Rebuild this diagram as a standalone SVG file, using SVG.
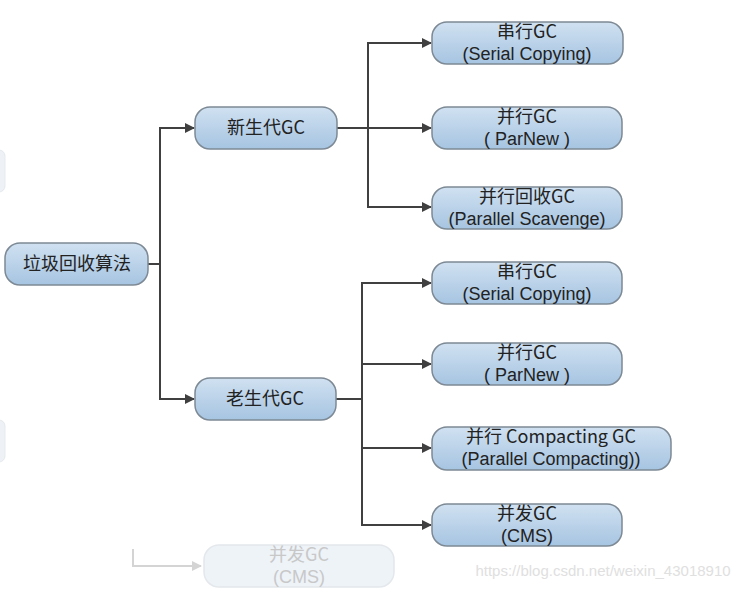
<svg xmlns="http://www.w3.org/2000/svg" width="748" height="589" viewBox="0 0 748 589">
<defs>
<linearGradient id="g" x1="0" y1="0" x2="0" y2="1">
<stop offset="0" stop-color="#d0e1f1"/>
<stop offset="1" stop-color="#a6c4e1"/>
</linearGradient>
<marker id="a" viewBox="0 0 10 10" refX="9" refY="5" markerWidth="10" markerHeight="10" markerUnits="userSpaceOnUse" orient="auto">
<path d="M0,0 L10,5 L0,10 z" fill="#404040"/>
</marker>
<marker id="af" viewBox="0 0 10 10" refX="9" refY="5" markerWidth="10" markerHeight="10" markerUnits="userSpaceOnUse" orient="auto">
<path d="M0,0 L10,5 L0,10 z" fill="#d4d4d4"/>
</marker>
<style>
.n rect{fill:url(#g);stroke:#7d8994;stroke-width:1.5}
.n text,.f text{font-family:"Noto Sans CJK SC","Noto Sans",sans-serif;font-size:18px;fill:#222;text-anchor:middle}
.n text.l,.f text.l{font-family:"Liberation Sans",Arial,sans-serif;font-size:18px}
.c path{fill:none;stroke:#404040;stroke-width:2;marker-end:url(#a)}
.c path.p{marker-end:none}
.f rect{fill:#eef3f8;stroke:#e4e8ec;stroke-width:1.5}
.f text{fill:#c8c8c8}
</style>
</defs>
<rect width="748" height="589" fill="#fff"/>
<g id="edge-fragments">
<rect x="-10" y="150" width="15" height="42" rx="6" fill="#eef2f6" stroke="#e6e9ec"/>
<rect x="-10" y="420" width="15" height="42" rx="6" fill="#eef2f6" stroke="#e6e9ec"/>
</g>
<g class="c" id="connectors">
<path class="p" d="M148,264 H160"/>
<path d="M160,264 V128 H194"/>
<path d="M160,264 V399 H194"/>
<path d="M337,128 H431"/>
<path d="M368,128 V43 H431"/>
<path d="M368,128 V207 H431"/>
<path class="p" d="M336,399 H362"/>
<path d="M362,399 V283 H431"/>
<path d="M362,399 V364 H431"/>
<path d="M362,399 V448 H431"/>
<path d="M362,399 V525 H431"/>
</g>
<g class="n" id="root"><rect x="5" y="243" width="143" height="42" rx="15"/><text x="77" y="270">垃圾回收算法</text></g>
<g class="n" id="young"><rect x="195" y="107" width="142" height="42" rx="15"/><text x="266" y="134">新生代GC</text></g>
<g class="n" id="old"><rect x="195" y="378" width="141" height="42" rx="15"/><text x="265" y="405">老生代GC</text></g>
<g class="n" id="y-serial"><rect x="432" y="22" width="191" height="42" rx="15"/><text x="527" y="37.5">串行GC</text><text class="l" x="527" y="59.5">(Serial Copying)</text></g>
<g class="n" id="y-parnew"><rect x="432" y="107" width="190" height="42" rx="15"/><text x="527" y="122.5">并行GC</text><text class="l" x="527" y="144.5">( ParNew )</text></g>
<g class="n" id="y-parallel"><rect x="432" y="187" width="190" height="42" rx="15"/><text x="527" y="202.5">并行回收GC</text><text class="l" x="527" y="224.5">(Parallel Scavenge)</text></g>
<g class="n" id="o-serial"><rect x="432" y="262" width="190" height="42" rx="15"/><text x="527" y="277.5">串行GC</text><text class="l" x="527" y="299.5">(Serial Copying)</text></g>
<g class="n" id="o-parnew"><rect x="432" y="343" width="190" height="42" rx="15"/><text x="527" y="358.5">并行GC</text><text class="l" x="527" y="380.5">( ParNew )</text></g>
<g class="n" id="o-compacting"><rect x="432" y="427" width="239" height="43" rx="15"/><text x="551" y="442.5">并行 Compacting GC</text><text class="l" x="551" y="465">(Parallel Compacting))</text></g>
<g class="n" id="o-cms"><rect x="432" y="504" width="190" height="42" rx="15"/><text x="527" y="519.5">并发GC</text><text class="l" x="527" y="541.5">(CMS)</text></g>
<g class="f" id="faded-cms">
<path d="M133,549 V566 H201" fill="none" stroke="#d4d4d4" stroke-width="2" marker-end="url(#af)"/>
<rect x="204" y="545" width="190" height="42" rx="15"/><text x="299" y="560.5">并发GC</text><text class="l" x="299" y="582.5">(CMS)</text></g>
<text x="603" y="576" font-family="Liberation Sans, Arial, sans-serif" font-size="15" fill="#e0e0e0" text-anchor="middle">https://blog.csdn.net/weixin_43018910</text>
</svg>
